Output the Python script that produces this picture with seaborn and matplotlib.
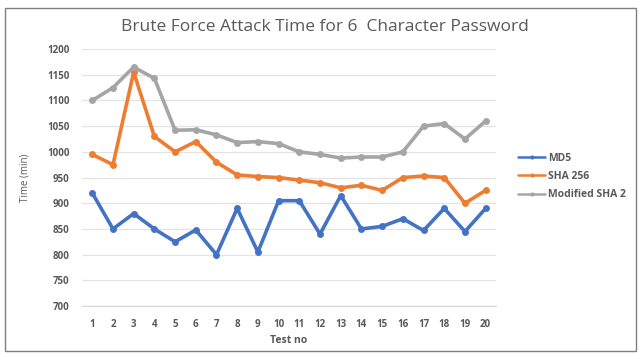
import matplotlib
matplotlib.use("Agg")
import matplotlib.pyplot as plt
import seaborn as sns
import pandas as pd
from matplotlib.patches import Rectangle

tests = list(range(1, 21))
md5 = [920, 850, 880, 850, 825, 848, 800, 890, 805, 905, 905, 840, 915, 850, 855, 870, 847, 890, 845, 890]
sha256 = [995, 975, 1155, 1030, 1000, 1020, 980, 955, 952, 950, 945, 940, 930, 935, 925, 950, 953, 950, 900, 925]
mod_sha2 = [1100, 1125, 1165, 1143, 1042, 1043, 1033, 1018, 1020, 1016, 1000, 995, 988, 990, 990, 1000, 1050, 1055, 1025, 1060]
series_names = ["MD5", "SHA 256", "Modified SHA 2"]
colors = ["#4472C4", "#ED7D31", "#A5A5A5"]
y_ticks = list(range(700, 1201, 50))

df = pd.DataFrame({
    "Test no": tests * 3,
    "Time (min)": md5 + sha256 + mod_sha2,
    "Series": [series_names[0]] * 20 + [series_names[1]] * 20 + [series_names[2]] * 20,
})

sns.set_style("white")
plt.rcParams['font.family'] = ['Open Sans', 'DejaVu Sans']

fig = plt.figure(figsize=(6.4, 3.53), dpi=100)
ax = fig.add_axes([0.128, 0.133, 0.647, 0.728])

sns.lineplot(data=df, x="Test no", y="Time (min)", hue="Series",
             palette=colors, hue_order=series_names, marker="o",
             markersize=5, markeredgewidth=0, linewidth=2.6, ax=ax, legend=True)

ax.set_xlim(0.5, 20.5)
ax.set_ylim(700, 1200)
ax.set_yticks(y_ticks)
ax.set_xticks(tests)
ax.set_yticklabels([str(v) for v in y_ticks], fontsize=7, fontweight='bold', color='#595959')
ax.set_xticklabels([str(v) for v in tests], fontsize=7, fontweight='bold', color='#595959')
ax.tick_params(axis='both', length=0, pad=9)
ax.grid(axis='y', color='#E3E3E3', linewidth=0.9)
ax.grid(axis='x', visible=False)
for s in ax.spines.values():
    s.set_visible(False)
ax.spines['bottom'].set_visible(True)
ax.spines['bottom'].set_color('#D9D9D9')
ax.spines['bottom'].set_linewidth(0.9)

ax.set_xlabel("Test no", fontsize=7.5, fontweight='bold', color='#595959', labelpad=4)
ax.set_ylabel("Time (min)", fontsize=7, color='#595959', labelpad=12)

leg = ax.legend(loc='center left', bbox_to_anchor=(0.795, 0.5), bbox_transform=fig.transFigure,
                frameon=False, fontsize=7.5, handlelength=2.6, labelspacing=0.7, handletextpad=0.3)
for t in leg.get_texts():
    t.set_fontweight('bold')
    t.set_color('#595959')
for h in leg.get_lines():
    h.set_linewidth(1.8)
    h.set_markersize(3)

fig.text(0.508, 0.923, "Brute Force Attack Time for 6  Character Password", ha='center', va='center',
         fontsize=12.5, color='#595959')

fig.patches.append(Rectangle((0.008, 0.005), 0.985, 0.972, transform=fig.transFigure,
                             fill=False, edgecolor='#7F7F7F', linewidth=1.0))

fig.savefig("out.png", dpi=100)
